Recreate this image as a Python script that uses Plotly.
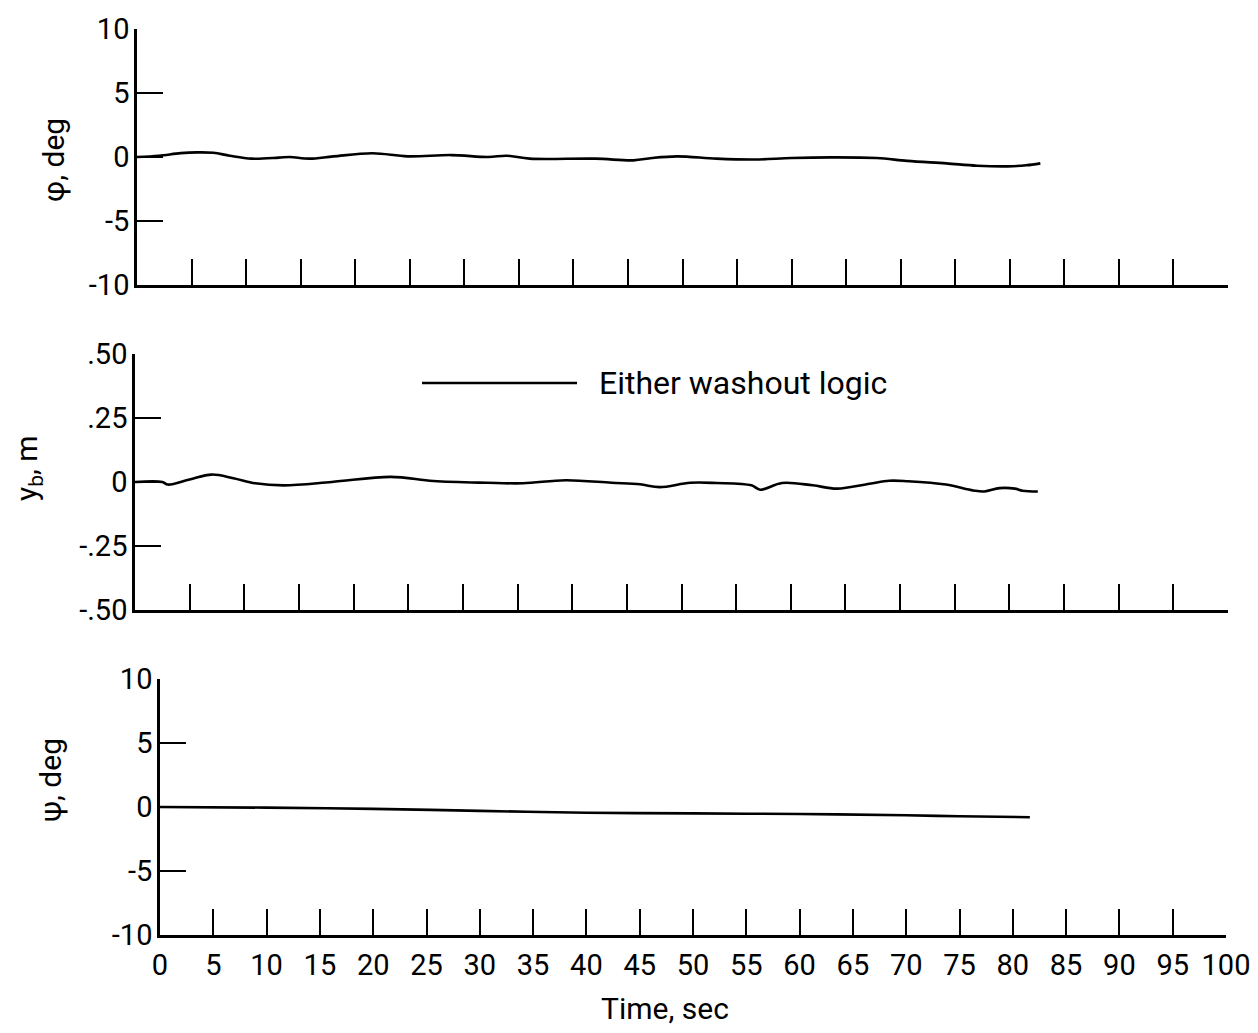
import plotly.graph_objects as go

# ---------------- data ----------------
phi_t = [0, 2, 4, 5.5, 7, 8.5, 10.5, 13, 14, 15.8, 18, 21.6, 24.8, 28.8, 32.2, 33.9, 36, 42,
         45.5, 47.2, 49.5, 53.1, 56.6, 60, 63.6, 67.8, 70.6, 74.2, 77, 79.8, 81.5, 82.8]
phi_deg = [0, 0.1, 0.3, 0.36, 0.33, 0.1, -0.13, -0.05, 0.0, -0.13, 0.05, 0.29, 0.05, 0.15, 0.0, 0.1,
           -0.13, -0.13, -0.26, -0.08, 0.05, -0.13, -0.2, -0.08, -0.03, -0.08, -0.3, -0.5, -0.68,
           -0.73, -0.65, -0.5]

yb_t = [0, 2.5, 3.0, 5, 7, 9, 11, 13.6, 18, 23.4, 27.3, 32.2, 35.5, 39.4, 43.6, 46.2, 48, 50.8,
        53.2, 56.4, 57.2, 59.2, 62, 64.2, 67.2, 69, 70.7, 74.2, 76.7, 77.7, 79.1, 80.5, 81.2, 82.6]
yb_m = [0, 0, -0.01, 0.01, 0.029, 0.015, -0.005, -0.013, 0.0, 0.02, 0.004, -0.003, -0.005, 0.007,
        -0.003, -0.009, -0.02, -0.003, -0.004, -0.013, -0.03, -0.004, -0.013, -0.026, -0.007, 0.005,
        0.003, -0.01, -0.033, -0.037, -0.024, -0.026, -0.034, -0.037]

psi_t = [0, 10, 20, 30, 40, 50, 60, 70, 75, 81.6]
psi_deg = [0, -0.05, -0.15, -0.3, -0.45, -0.5, -0.55, -0.65, -0.72, -0.8]

time_ticks = list(range(0, 101, 5))
time_ticktext = [str(v) for v in time_ticks]
phi_ticks = [-10, -5, 0, 5, 10]
phi_ticktext = ["-10", "-5", "0", "5", "10"]
yb_ticks = [-0.5, -0.25, 0, 0.25, 0.5]
yb_ticktext = ["-.50", "-.25", "0", ".25", ".50"]
psi_ticks = [-10, -5, 0, 5, 10]
psi_ticktext = ["-10", "-5", "0", "5", "10"]

legend_label = "Either washout logic"

# ---------------- figure ----------------
W, H = 1258, 1033
OFF = 8  # page body margin
FONT = "Roboto, Liberation Sans Narrow, sans-serif"
px = lambda v: (v - OFF) / W
py = lambda v: 1 - (v - OFF) / H

fig = go.Figure()
line = dict(color="black", width=2.6)
fig.add_trace(go.Scatter(x=phi_t, y=phi_deg, mode="lines", line=line, xaxis="x", yaxis="y",
                         showlegend=False, line_shape="spline"))
fig.add_trace(go.Scatter(x=yb_t, y=yb_m, mode="lines", line=line, xaxis="x2", yaxis="y2",
                         showlegend=False, line_shape="spline"))
fig.add_trace(go.Scatter(x=psi_t, y=psi_deg, mode="lines", line=line, xaxis="x3", yaxis="y3",
                         showlegend=False, line_shape="spline"))

common_x = dict(range=[0, 100], tickvals=time_ticks, ticktext=time_ticktext, ticks="inside",
                ticklen=26, tickwidth=2, tickcolor="black", showline=True, linecolor="black",
                linewidth=2.5, showgrid=False, zeroline=False, fixedrange=True, automargin=False,
                tickfont=dict(family=FONT, size=29, color="black"))
common_y = dict(ticks="inside", ticklen=26, tickwidth=2, tickcolor="black", showline=True,
                linecolor="black", linewidth=2.5, showgrid=False, zeroline=False, automargin=False,
                tickfont=dict(family=FONT, size=29, color="black"), ticklabelstandoff=-1)

fig.update_layout(
    width=W, height=H, margin=dict(l=0, r=0, t=0, b=0, autoexpand=False),
    paper_bgcolor="white", plot_bgcolor="white",
    font=dict(family=FONT, color="black", size=28),
    showlegend=False,
    xaxis=dict(common_x, domain=[px(137), px(1228)], anchor="y", showticklabels=False),
    yaxis=dict(common_y, domain=[py(285), py(29)], anchor="x", range=[-10, 10],
               tickvals=phi_ticks, ticktext=phi_ticktext),
    xaxis2=dict(common_x, domain=[px(135), px(1228)], anchor="y2", showticklabels=False),
    yaxis2=dict(common_y, domain=[py(610), py(354)], anchor="x2", range=[-0.5, 0.5],
                tickvals=yb_ticks, ticktext=yb_ticktext),
    xaxis3=dict(common_x, domain=[px(160), px(1226)], anchor="y3", showticklabels=True,
                ticklabelstandoff=2),
    yaxis3=dict(common_y, domain=[py(935), py(679)], anchor="x3", range=[-10, 10],
                tickvals=psi_ticks, ticktext=psi_ticktext),
)

def label(text, x, y, angle=0, size=30, xanchor="center"):
    return dict(text=text, x=px(x), y=py(y), xref="paper", yref="paper", textangle=angle,
                xanchor=xanchor, yanchor="middle", showarrow=False,
                font=dict(family=FONT, size=size, color="black"))

ann = [
    label("φ, deg", 54, 160, -90),
    label("y<sub>b</sub>, m", 28, 468, -90),
    label("ψ, deg", 50, 780, -90),
    label("Time, sec", 665, 1008),
    label(legend_label, 597, 383, 0, 32, "left"),
]
fig.update_layout(annotations=ann)

fig.add_shape(type="line", xref="paper", yref="paper", x0=px(422), x1=px(577), y0=py(383), y1=py(383),
              line=dict(color="black", width=2.6))

fig.write_html("out.html")
